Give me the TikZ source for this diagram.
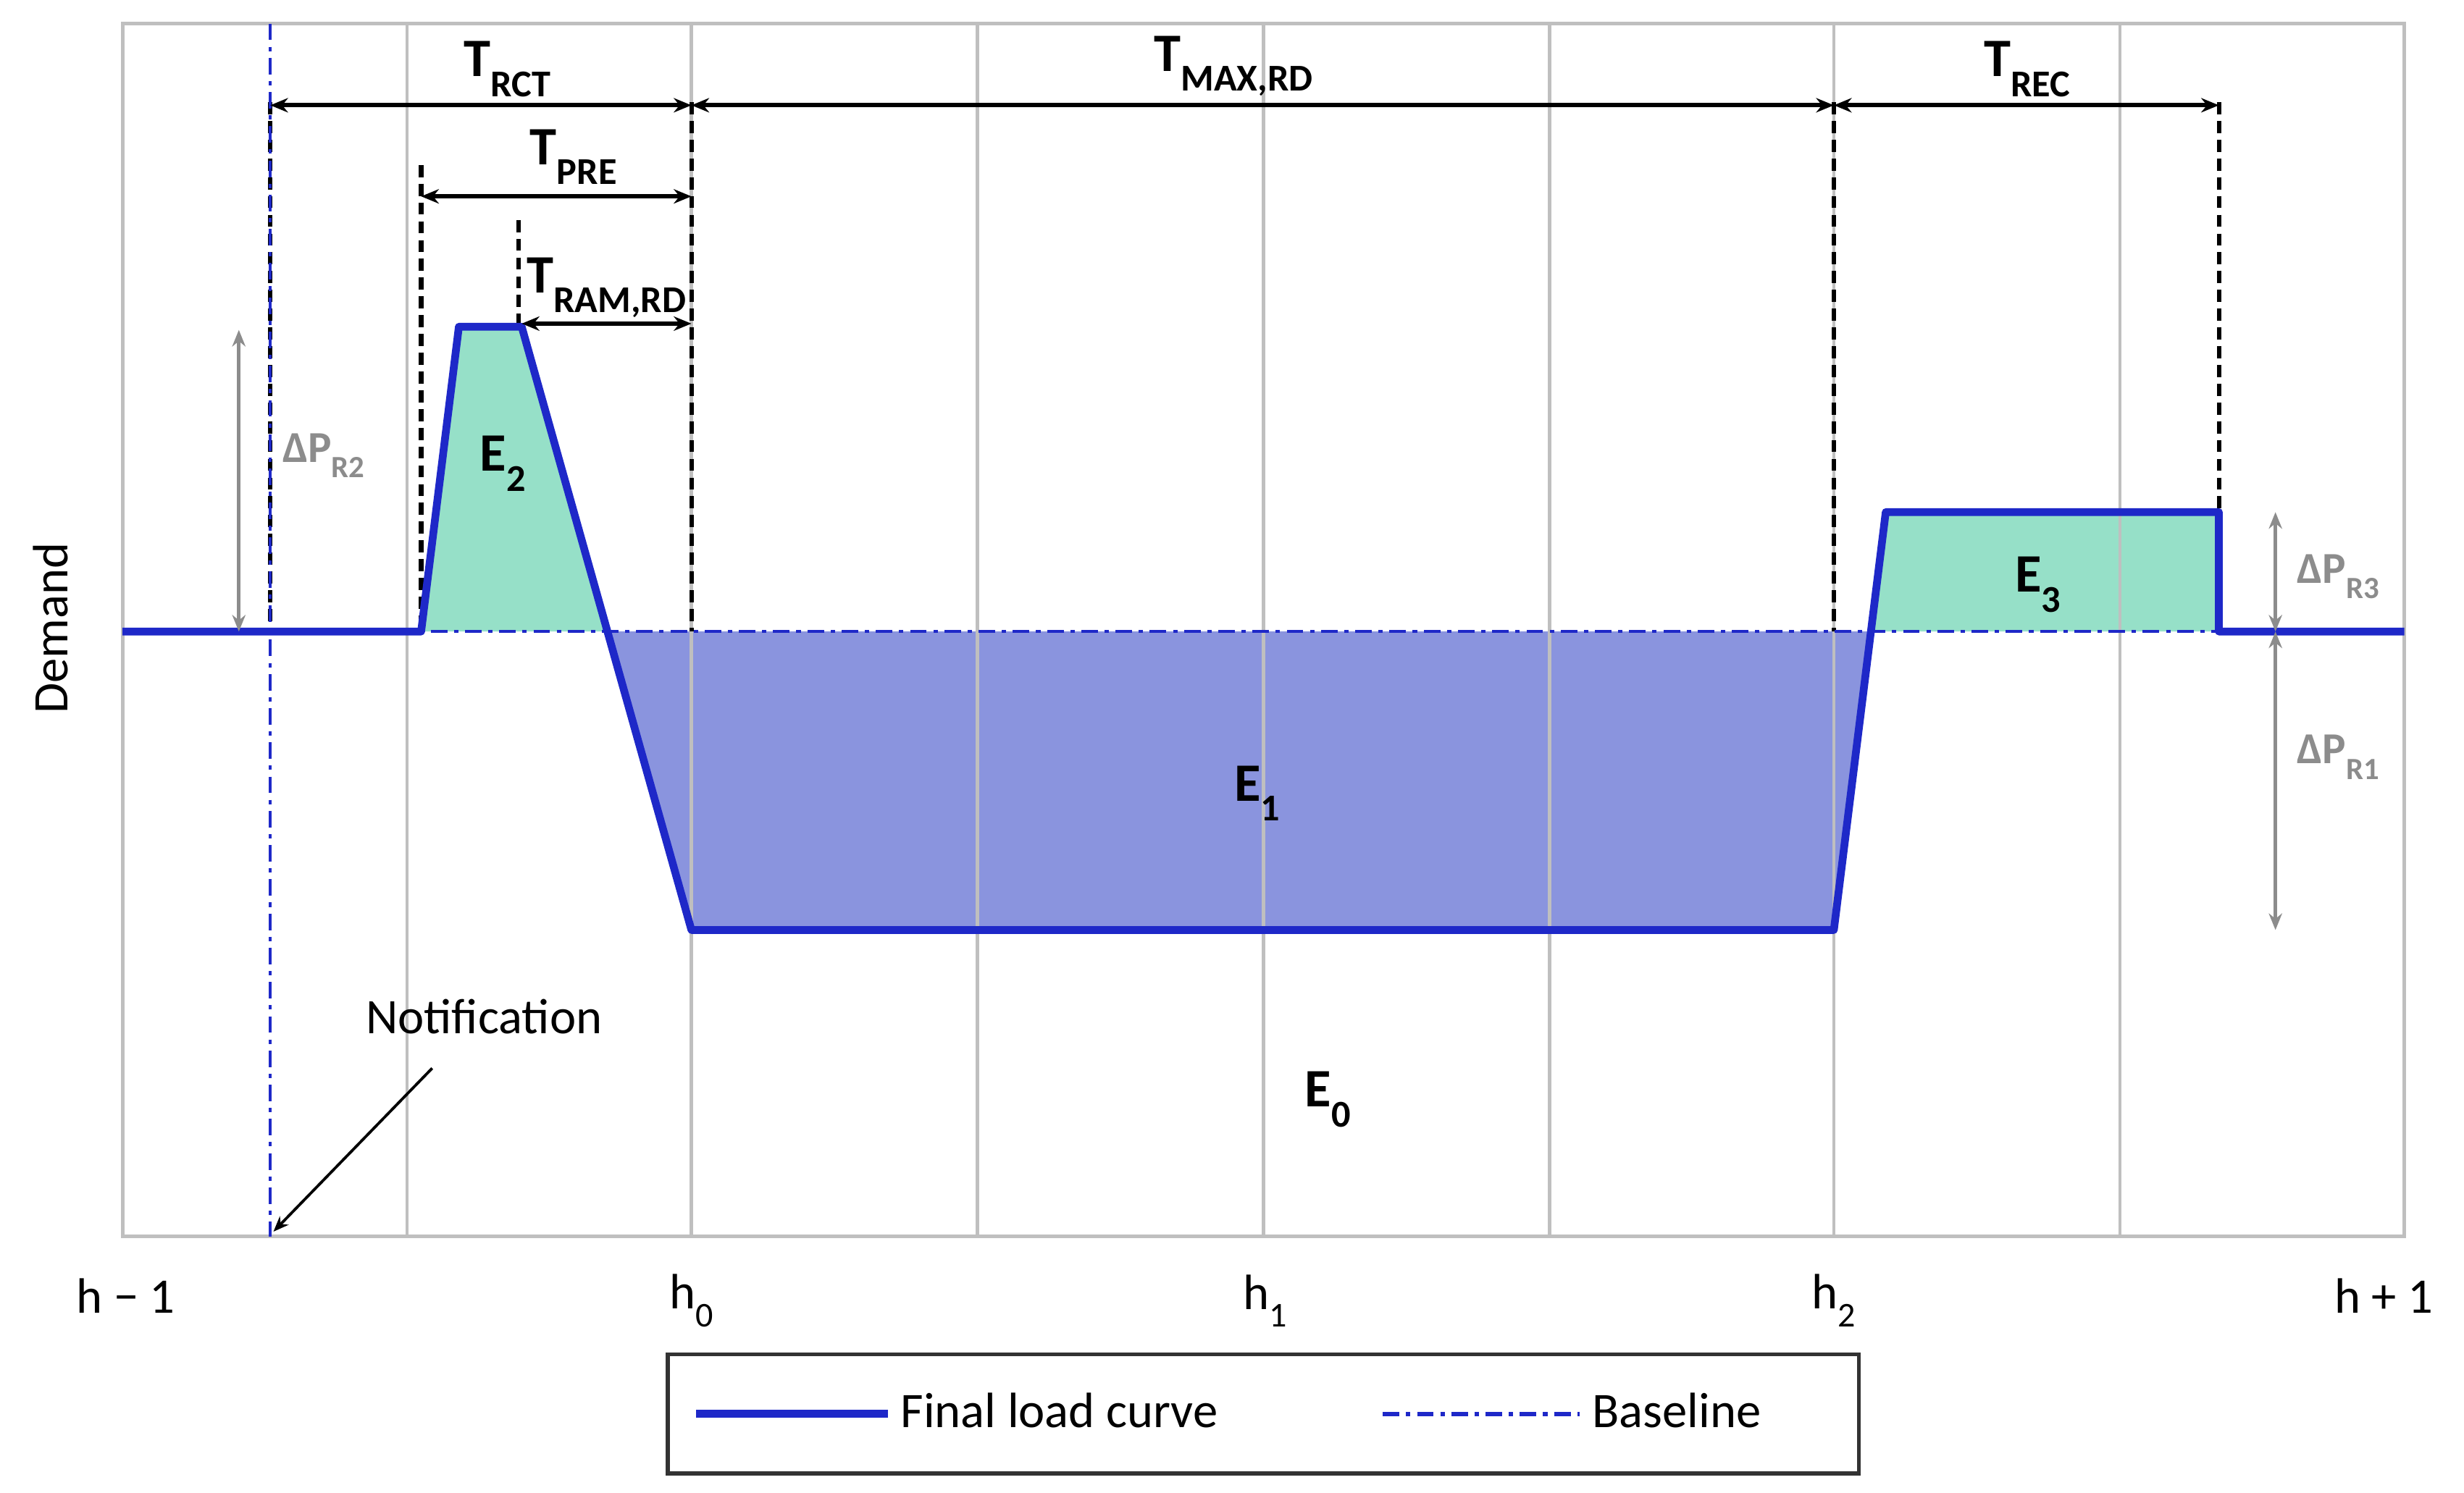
\documentclass[tikz,border=0pt]{standalone}
\usepackage{fontspec}
\setmainfont{Carlito}
\usetikzlibrary{arrows.meta}
\definecolor{gfill}{RGB}{150,224,200}
\definecolor{bfill}{RGB}{138,148,222}
\definecolor{lblue}{RGB}{30,40,200}
\begin{document}
\begin{tikzpicture}[x=0.1cm,y=-0.1cm,
 grid/.style={draw=black!25,line width=6pt},
 curve/.style={draw=lblue,line width=14pt,line join=round},
 base/.style={draw=lblue,line width=5pt,dash pattern=on 30pt off 12pt on 8pt off 12pt},
 vd/.style={draw=black,line width=8pt,dash pattern=on 22pt off 12pt},
 dim/.style={draw=black,line width=8pt,{Stealth[length=32pt,width=26pt]}-{Stealth[length=32pt,width=26pt]}},
 gdim/.style={draw=black!45,line width=7pt,{Stealth[length=30pt,width=24pt]}-{Stealth[length=30pt,width=24pt]}},
 lab/.style={font=\fontsize{98}{110}\selectfont\bfseries},
 glab/.style={font=\fontsize{80}{90}\selectfont\bfseries,text=black!45},
 txt/.style={font=\fontsize{90}{100}\selectfont}]
\useasboundingbox (0,0) rectangle (1568,950);
\fill[white] (0,0) rectangle (1568,950);
% fills
\fill[gfill] (268,402) -- (292,208) -- (332,208) -- (386,402) -- cycle;
\fill[gfill] (1190,402) -- (1200,326) -- (1412,326) -- (1412,402) -- cycle;
\fill[bfill] (386,402) -- (440,592) -- (1167,592) -- (1190,402) -- cycle;
% grid
\foreach \x in {259,440,622,804,986,1167,1349} \draw[grid] (\x,15) -- (\x,787);
\draw[grid] (78,15) rectangle (1530,787);
% dashed verticals
\draw[vd] (172,65) -- (172,402);
\draw[vd] (268,105) -- (268,402);
\draw[vd] (330,140) -- (330,208);
\draw[vd] (440,65) -- (440,402);
\draw[vd] (1167,65) -- (1167,402);
\draw[vd] (1412,65) -- (1412,326);
% baseline and notification
\draw[base] (78,402) -- (1530,402);
\draw[base] (172,15) -- (172,787);
% curve
\draw[curve] (78,402) -- (268,402) -- (292,208) -- (332,208) -- (440,592) -- (1167,592) -- (1200,326) -- (1412,326) -- (1412,402) -- (1530,402);
% dims
\coordinate (a1) at (172,67); \coordinate (a2) at (440,67);
\coordinate (a3) at (1167,67); \coordinate (a4) at (1412,67);
\draw[dim] (a1) -- (a2); \draw[dim] (a2) -- (a3); \draw[dim] (a3) -- (a4);
\coordinate (b1) at (268,125); \coordinate (b2) at (440,125);
\draw[dim] (b1) -- (b2);
\coordinate (c1) at (332,206); \coordinate (c2) at (440,206);
\draw[dim] (c1) -- (c2);
\node[lab] (trct) at (323,44) {T\textsubscript{RCT}};
\node[lab] (tmax) at (785,42) {T\textsubscript{MAX,RD}};
\node[lab] (trec) at (1290,44) {T\textsubscript{REC}};
\node[lab] (tpre) at (365,100) {T\textsubscript{PRE}};
\node[lab] (tram) at (386,183) {T\textsubscript{RAM,RD}};
% gray dims
\coordinate (g1) at (152,210); \coordinate (g2) at (152,402);
\draw[gdim] (g1) -- (g2);
\coordinate (g3) at (1448,326); \coordinate (g4) at (1448,402); \coordinate (g5) at (1448,592);
\draw[gdim] (g3) -- (g4); \draw[gdim] (g4) -- (g5);
\node[glab] (dp2) at (206,290) {ΔP\textsubscript{R2}};
\node[glab] (dp3) at (1488,367) {ΔP\textsubscript{R3}};
\node[glab] (dp1) at (1488,482) {ΔP\textsubscript{R1}};
% energies
\node[lab] (e2) at (320,295) {E\textsubscript{2}};
\node[lab] (e1) at (800,505) {E\textsubscript{1}};
\node[lab] (e3) at (1297,372) {E\textsubscript{3}};
\node[lab] (e0) at (845,700) {E\textsubscript{0}};
% axis labels
\node[txt,rotate=90] (dem) at (32,400) {Demand};
\node[txt] (hm) at (80,825) {h − 1};
\node[txt] (h0) at (440,828) {h\textsubscript{0}};
\node[txt] (h1) at (805,828) {h\textsubscript{1}};
\node[txt] (h2) at (1167,828) {h\textsubscript{2}};
\node[txt] (hp) at (1517,825) {h + 1};
\node[txt] (note) at (308,647) {Notification};
\coordinate (nt) at (174,784);
\draw[draw=black,line width=5pt,-{Stealth[length=28pt,width=22pt]}] (275,680) -- (nt);
% legend
\draw[draw=black!80,line width=7pt] (425,862) rectangle (1183,938);
\coordinate (l1) at (443,900); \coordinate (l2) at (565,900);
\draw[curve] (l1) -- (l2);
\node[txt,anchor=west] (lf) at (572,898) {Final load curve};
\coordinate (l3) at (880,900); \coordinate (l4) at (1005,900);
\draw[base,line width=8pt] (l3) -- (l4);
\node[txt,anchor=west] (lb) at (1012,898) {Baseline};
\end{tikzpicture}
\end{document}
